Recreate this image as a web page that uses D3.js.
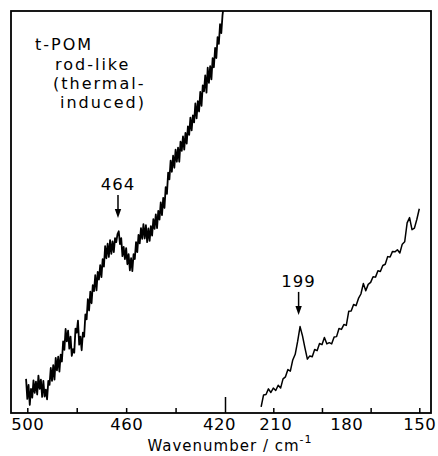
<!DOCTYPE html>
<html>
<head>
<meta charset="utf-8">
<script src="https://cdn.jsdelivr.net/npm/d3@7/dist/d3.min.js"></script>
<style>
  html, body { margin: 0; padding: 0; background: #fff; }
  svg { display: block; }
  text { font-family: "DejaVu Sans", sans-serif; fill: #000; }
</style>
</head>
<body>
<svg id="chart" width="438" height="456"></svg>
<script>
// ---- data ----
// Left segment: wavenumbers 500.5 -> 420.5 cm-1, step 0.5
const leftStart = 500.5, leftStep = -0.5;
const leftIntensity = [
  8.5, 3.5, 7, 2, 6, 3.8, 8.1, 5, 7.8, 4.6,
  9.3, 6, 8.3, 4, 8, 4.1, 5.8, 3.4, 8, 7,
  11.2, 8, 11.9, 8.3, 13.7, 10.6, 14, 10.3, 14.5, 12.8,
  17.8, 15.7, 20.9, 17.8, 20.5, 16, 19, 14.2, 15.9, 15,
  21, 20, 23, 17, 19, 15.6, 20, 19, 24.5, 23.3,
  28.3, 25.5, 30.2, 27.3, 31.8, 30.3, 34.3, 30.5, 35.1, 33.2,
  36.8, 33.8, 38.3, 36.4, 41.5, 38.5, 42.1, 38.8, 43, 39.6,
  42.7, 40, 43.5, 42.5, 44.5, 45.2, 42, 43.5, 39, 41.3,
  38.3, 41, 37, 39.5, 35.5, 38.5, 35.3, 39.5, 38.3, 42.5,
  40, 44.3, 42.2, 46, 43.3, 47, 43.4, 46.7, 42.5, 45.9,
  42.8, 46.5, 44.1, 48.2, 45.8, 49.4, 46, 50.3, 48.1, 52.4,
  49.2, 53.5, 51, 56.2, 54.5, 59.8, 58.1, 62.8, 60, 64,
  61, 65.5, 62.5, 66, 62.5, 67.5, 65.2, 68.8, 65.5, 69.7,
  67, 71.3, 69.2, 73.5, 70.3, 74, 72.3, 77, 73.3, 77.6,
  75, 79.9, 76.4, 81.5, 80, 84, 79.7, 85.9, 82.1, 86.3,
  83, 88.3, 86, 90.8, 88.3, 93.5, 91.8, 96.7, 94.5, 99,
  101.5
];
// Right segment: wavenumbers 215 -> 150 cm-1, step 1
const rightStart = 215, rightStep = -1;
const rightIntensity = [
  1.5, 4.5, 4.6, 6, 5.1, 6.2, 5.6, 6.9, 6.2, 8.5,
  9, 10.8, 10.4, 13.2, 14.6, 17.8, 21.5, 19.2, 16.2, 13.4,
  14.2, 14, 15.8, 15.5, 17.3, 17, 18.8, 17.2, 17.5, 17.2,
  18.9, 19, 21, 20.8, 22, 21.8, 25.3, 25.4, 27, 26.7,
  28.5, 29.6, 32.2, 30.4, 32, 32.5, 33.9, 33.8, 35.4, 35.2,
  36.7, 37, 38.9, 38.8, 40.2, 40.1, 40.6, 39.8, 42, 42.6,
  47.3, 48.6, 45.6, 46, 48.2, 50.8
];
const leftTicks = [500, 480, 460, 440, 420];
const leftTickLabels = [500, 460, 420];
const rightTicks = [210, 190, 170, 150];
const rightTickLabels = [210, 180, 150];
const sampleLines = ["t-POM", "rod-like", "(thermal-", "induced)"];
const peakLeft = { label: "464", wn: 463.3, tip: 48.5 };
const peakRight = { label: "199", wn: 199.6, tip: 24.4 };
const xTitle = "Wavenumber / cm";
const xTitleSup = "-1";

// ---- layout ----
const frame = { left: 11, right: 431, top: 11, bottom: 413 };
const svg = d3.select("#chart");

const xL = d3.scaleLinear().domain([500, 420]).range([27.3, 225]);
const xR = d3.scaleLinear().domain([210, 150]).range([273.3, 419.3]);
const y = d3.scaleLinear().domain([0, 100]).range([frame.bottom, frame.top]);

const leftData = leftIntensity.map((v, i) => ({ wn: leftStart + i * leftStep, v }));
const rightData = rightIntensity.map((v, i) => ({ wn: rightStart + i * rightStep, v }));

svg.append("clipPath").attr("id", "plotclip")
  .append("rect")
  .attr("x", frame.left).attr("y", frame.top)
  .attr("width", frame.right - frame.left).attr("height", frame.bottom - frame.top);

const g = svg.append("g").attr("clip-path", "url(#plotclip)");
g.append("path").datum(leftData)
  .attr("fill", "none").attr("stroke", "#000").attr("stroke-width", 1.8)
  .attr("stroke-linejoin", "round")
  .attr("d", d3.line().x(d => xL(d.wn)).y(d => y(d.v)));
g.append("path").datum(rightData)
  .attr("fill", "none").attr("stroke", "#000").attr("stroke-width", 1.5)
  .attr("stroke-linejoin", "round")
  .attr("d", d3.line().x(d => xR(d.wn)).y(d => y(d.v)));

// frame
svg.append("rect")
  .attr("x", frame.left).attr("y", frame.top)
  .attr("width", frame.right - frame.left).attr("height", frame.bottom - frame.top)
  .attr("fill", "none").attr("stroke", "#000").attr("stroke-width", 1.8);

// ticks (inward)
function tickAxis(scale, ticks) {
  const ax = d3.axisBottom(scale).tickValues(ticks).tickSizeInner(-5).tickSizeOuter(0).tickFormat("");
  const gg = svg.append("g").attr("transform", `translate(0,${frame.bottom})`).call(ax);
  gg.select(".domain").remove();
  gg.selectAll(".tick line").attr("stroke", "#000").attr("stroke-width", 1.5);
  return gg;
}
const gl = tickAxis(xL, leftTicks);
gl.selectAll(".tick line").filter(d => d === 420).attr("y2", -16);
tickAxis(xR, rightTicks);

// tick labels
function labelAxis(scale, labels) {
  const ax = d3.axisBottom(scale).tickValues(labels).tickSize(0).tickPadding(0).tickFormat(d3.format("d"));
  const gg = svg.append("g").attr("transform", `translate(0,${frame.bottom})`).call(ax);
  gg.select(".domain").remove();
  gg.selectAll(".tick text")
    .attr("dy", null).attr("y", 17)
    .style("font-family", "DejaVu Sans, sans-serif")
    .style("font-size", "16.5px").style("letter-spacing", "0.5px")
    .attr("fill", "#000");
  return gg;
}
const ll = labelAxis(xL, leftTickLabels);
ll.selectAll(".tick text").filter(d => d === 420).attr("dx", -6);
labelAxis(xR, rightTickLabels).selectAll(".tick text").filter(d => d === 210).attr("dx", 2);

// axis title
const t = svg.append("text")
  .attr("x", 230).attr("y", 451)
  .attr("text-anchor", "middle")
  .style("font-size", "15px").style("letter-spacing", "1px");
t.append("tspan").text(xTitle);
t.append("tspan").attr("dy", -8).style("font-size", "11px").text(xTitleSup);

// sample annotation
const lineX = [35, 55, 53, 60];
const lineY = [50, 70, 89, 108];
sampleLines.forEach((s, i) => {
  svg.append("text")
    .attr("x", lineX[i]).attr("y", lineY[i])
    .style("font-size", "16px").style("letter-spacing", "2px")
    .text(s);
});

// peak arrows
function peakArrow(xs, p) {
  const px = xs(p.wn), tipY = y(p.tip);
  const len = 23;
  svg.append("line")
    .attr("x1", px).attr("x2", px)
    .attr("y1", tipY - len).attr("y2", tipY - 6)
    .attr("stroke", "#000").attr("stroke-width", 1.5);
  svg.append("path")
    .attr("d", `M${px - 3.2},${tipY - 9} L${px + 3.2},${tipY - 9} L${px},${tipY} Z`)
    .attr("fill", "#000");
  svg.append("text")
    .attr("x", px).attr("y", tipY - len - 5)
    .attr("text-anchor", "middle")
    .style("font-size", "16.5px").style("letter-spacing", "1px")
    .text(p.label);
}
peakArrow(xL, peakLeft);
peakArrow(xR, peakRight);
</script>
</body>
</html>
